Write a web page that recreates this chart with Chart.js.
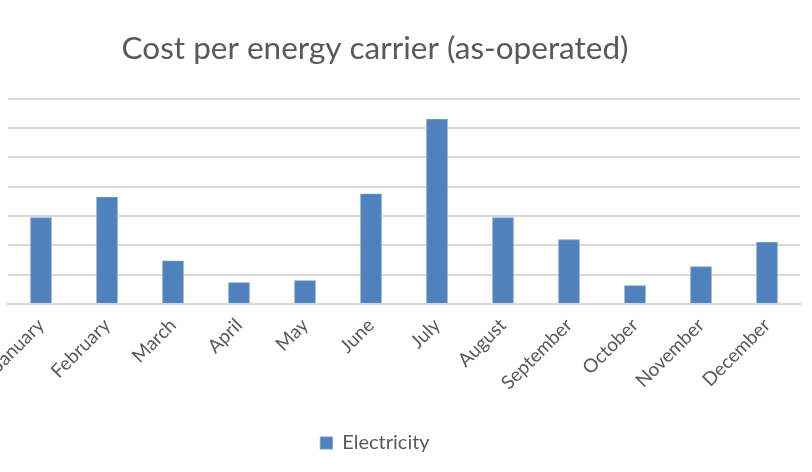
<!DOCTYPE html>
<html>
<head>
<meta charset="utf-8">
<script src="https://cdn.jsdelivr.net/npm/chart.js@4"></script>
<style>
  html, body { margin: 0; padding: 0; background: #fff; overflow: hidden; }
  #wrap { position: absolute; left: -50px; top: 0; width: 862px; height: 472px; }
</style>
</head>
<body>
<div id="wrap"><canvas id="costChart"></canvas></div>
<script>
// values, one unit per grid line
const months = ['January', 'February', 'March', 'April', 'May', 'June',
                'July', 'August', 'September', 'October', 'November', 'December'];
const electricity = [2.95, 3.65, 1.47, 0.73, 0.8, 3.76, 6.3, 2.95, 2.2, 0.63, 1.28, 2.1];
const yTicks = [0, 1, 2, 3, 4, 5, 6, 7];

const grey = '#595959';

const ctx = document.getElementById('costChart').getContext('2d');
new Chart(ctx, {
    type: 'bar',
    data: {
        labels: months,
        datasets: [{
            label: 'Electricity',
            data: electricity,
            backgroundColor: '#4f81bd',
            borderColor: '#6f98c9',
            borderWidth: 1,
            barThickness: 21
        }]
    },
    options: {
        responsive: true,
        maintainAspectRatio: false,
        animation: false,
        layout: { padding: { left: 0, right: 12, bottom: 9 } },
        plugins: {
            title: {
                display: true,
                text: 'Cost per energy carrier (as-operated)',
                color: grey,
                font: { family: 'Lato', size: 31.5, weight: 'normal' },
                padding: { top: 30, bottom: 31 }
            },
            legend: {
                position: 'bottom',
                labels: {
                    color: grey,
                    font: { family: 'Lato', size: 20 },
                    boxWidth: 12,
                    boxHeight: 12,
                    padding: 9
                }
            },
            tooltip: { enabled: false }
        },
        scales: {
            x: {
                afterFit: function (scale) { scale.height = 120; },
                grid: { display: false },
                border: { color: '#d9d9d9', width: 2 },
                ticks: {
                    color: grey,
                    font: { family: 'Lato', size: 19 },
                    maxRotation: 45,
                    minRotation: 45,
                    padding: 2
                }
            },
            y: {
                min: yTicks[0],
                max: yTicks[yTicks.length - 1],
                afterFit: function (scale) { scale.width = 58; },
                afterBuildTicks: function (scale) {
                    scale.ticks = yTicks.map(v => ({ value: v }));
                },
                border: { display: false },
                grid: { color: '#d9d9d9', lineWidth: 2, drawTicks: false },
                ticks: { display: false }
            }
        }
    }
});
</script>
</body>
</html>
